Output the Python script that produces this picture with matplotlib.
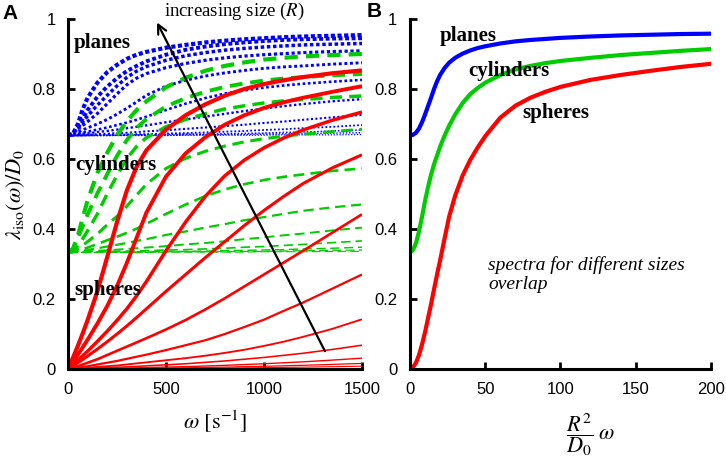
import matplotlib
matplotlib.use("Agg")
import matplotlib.pyplot as plt
from matplotlib.ticker import FixedLocator


# panel A: frequency grid [s^-1] shared by every curve
OMEGA = [0, 25, 50, 75, 100, 150, 200, 250, 300, 350, 400,
         500, 600, 700, 800, 900, 1000, 1100, 1200, 1350, 1500]

# planes (dotted blue), largest size first
PLANES_A = [
    [0.667, 0.671, 0.700, 0.742, 0.775, 0.818, 0.848, 0.869, 0.886, 0.898, 0.906, 0.918, 0.926, 0.933, 0.938, 0.942, 0.945, 0.948, 0.950, 0.952, 0.954],
    [0.667, 0.672, 0.690, 0.715, 0.740, 0.778, 0.807, 0.831, 0.851, 0.866, 0.879, 0.898, 0.912, 0.921, 0.928, 0.933, 0.937, 0.940, 0.942, 0.944, 0.945],
    [0.667, 0.674, 0.688, 0.706, 0.723, 0.754, 0.782, 0.809, 0.833, 0.851, 0.864, 0.882, 0.895, 0.904, 0.911, 0.916, 0.920, 0.923, 0.926, 0.928, 0.930],
    [0.667, 0.676, 0.686, 0.696, 0.707, 0.730, 0.758, 0.786, 0.812, 0.831, 0.844, 0.861, 0.873, 0.882, 0.889, 0.894, 0.898, 0.901, 0.904, 0.907, 0.909],
    [0.667, 0.672, 0.677, 0.683, 0.689, 0.700, 0.713, 0.728, 0.745, 0.763, 0.782, 0.808, 0.825, 0.837, 0.846, 0.853, 0.859, 0.863, 0.866, 0.871, 0.875],
    [0.667, 0.670, 0.672, 0.675, 0.678, 0.684, 0.690, 0.697, 0.704, 0.712, 0.721, 0.740, 0.758, 0.774, 0.787, 0.796, 0.804, 0.810, 0.815, 0.821, 0.826],
    [0.667, 0.668, 0.670, 0.672, 0.673, 0.677, 0.680, 0.684, 0.688, 0.692, 0.696, 0.705, 0.713, 0.721, 0.729, 0.737, 0.744, 0.751, 0.757, 0.765, 0.771],
    [0.667, 0.667, 0.668, 0.668, 0.669, 0.671, 0.672, 0.674, 0.675, 0.677, 0.679, 0.682, 0.686, 0.690, 0.694, 0.698, 0.703, 0.707, 0.712, 0.719, 0.726],
    [0.667, 0.667, 0.667, 0.667, 0.668, 0.668, 0.669, 0.669, 0.670, 0.671, 0.671, 0.673, 0.674, 0.676, 0.678, 0.680, 0.683, 0.685, 0.688, 0.692, 0.697],
    [0.667, 0.667, 0.667, 0.667, 0.667, 0.668, 0.668, 0.668, 0.669, 0.669, 0.669, 0.670, 0.671, 0.671, 0.672, 0.673, 0.674, 0.676, 0.677, 0.680, 0.683],
    [0.667, 0.667, 0.667, 0.667, 0.667, 0.667, 0.667, 0.668, 0.668, 0.668, 0.668, 0.668, 0.669, 0.669, 0.670, 0.670, 0.671, 0.672, 0.672, 0.674, 0.675],
    [0.667, 0.667, 0.667, 0.667, 0.667, 0.667, 0.667, 0.667, 0.667, 0.667, 0.667, 0.667, 0.668, 0.668, 0.668, 0.668, 0.668, 0.669, 0.669, 0.669, 0.670],
]

# cylinders (dashed green)
CYLINDERS_A = [
    [0.333, 0.343, 0.380, 0.432, 0.482, 0.560, 0.618, 0.668, 0.708, 0.740, 0.765, 0.805, 0.832, 0.852, 0.866, 0.876, 0.884, 0.889, 0.893, 0.897, 0.900],
    [0.333, 0.341, 0.374, 0.408, 0.442, 0.502, 0.557, 0.609, 0.654, 0.689, 0.714, 0.750, 0.774, 0.792, 0.806, 0.816, 0.824, 0.830, 0.834, 0.839, 0.843],
    [0.333, 0.339, 0.352, 0.372, 0.395, 0.443, 0.501, 0.553, 0.601, 0.636, 0.661, 0.692, 0.713, 0.729, 0.743, 0.752, 0.760, 0.766, 0.770, 0.776, 0.780],
    [0.333, 0.337, 0.344, 0.353, 0.364, 0.386, 0.412, 0.436, 0.465, 0.497, 0.528, 0.573, 0.602, 0.622, 0.637, 0.649, 0.658, 0.665, 0.671, 0.678, 0.685],
    [0.333, 0.335, 0.338, 0.342, 0.347, 0.357, 0.368, 0.378, 0.389, 0.401, 0.415, 0.443, 0.470, 0.494, 0.513, 0.528, 0.540, 0.549, 0.556, 0.566, 0.573],
    [0.333, 0.334, 0.336, 0.338, 0.340, 0.345, 0.350, 0.355, 0.360, 0.366, 0.371, 0.383, 0.393, 0.404, 0.414, 0.425, 0.434, 0.443, 0.452, 0.462, 0.470],
    [0.333, 0.334, 0.334, 0.335, 0.336, 0.338, 0.339, 0.341, 0.343, 0.345, 0.347, 0.351, 0.356, 0.360, 0.365, 0.371, 0.376, 0.382, 0.387, 0.396, 0.404],
    [0.333, 0.333, 0.334, 0.334, 0.334, 0.335, 0.335, 0.336, 0.337, 0.337, 0.338, 0.340, 0.341, 0.343, 0.345, 0.348, 0.350, 0.353, 0.356, 0.361, 0.366],
    [0.333, 0.333, 0.333, 0.333, 0.333, 0.334, 0.334, 0.334, 0.334, 0.335, 0.335, 0.336, 0.336, 0.337, 0.338, 0.339, 0.340, 0.341, 0.343, 0.345, 0.348],
    [0.333, 0.333, 0.333, 0.333, 0.333, 0.333, 0.333, 0.334, 0.334, 0.334, 0.334, 0.334, 0.335, 0.335, 0.335, 0.336, 0.336, 0.337, 0.338, 0.339, 0.340],
    [0.333, 0.333, 0.333, 0.333, 0.333, 0.333, 0.333, 0.333, 0.333, 0.333, 0.333, 0.334, 0.334, 0.334, 0.334, 0.334, 0.335, 0.335, 0.335, 0.336, 0.336],
]

# spheres (solid red)
SPHERES_A = [
    [0, 0.032, 0.066, 0.102, 0.140, 0.222, 0.320, 0.420, 0.510, 0.578, 0.625, 0.684, 0.725, 0.756, 0.781, 0.800, 0.814, 0.825, 0.834, 0.845, 0.853],
    [0, 0.020, 0.041, 0.062, 0.084, 0.130, 0.180, 0.237, 0.303, 0.375, 0.447, 0.550, 0.616, 0.662, 0.698, 0.725, 0.746, 0.762, 0.775, 0.792, 0.808],
    [0, 0.012, 0.025, 0.038, 0.051, 0.079, 0.108, 0.139, 0.172, 0.209, 0.250, 0.338, 0.420, 0.493, 0.552, 0.597, 0.632, 0.660, 0.683, 0.711, 0.734],
    [0, 0.009, 0.018, 0.027, 0.037, 0.057, 0.078, 0.100, 0.123, 0.147, 0.172, 0.222, 0.270, 0.318, 0.364, 0.410, 0.453, 0.493, 0.530, 0.575, 0.612],
    [0, 0.004, 0.008, 0.013, 0.018, 0.028, 0.040, 0.052, 0.064, 0.076, 0.088, 0.113, 0.140, 0.170, 0.202, 0.236, 0.270, 0.304, 0.338, 0.390, 0.442],
    [0, 0.002, 0.004, 0.006, 0.008, 0.013, 0.018, 0.023, 0.029, 0.035, 0.041, 0.054, 0.068, 0.082, 0.100, 0.120, 0.141, 0.166, 0.190, 0.230, 0.270],
    [0, 0.001, 0.002, 0.003, 0.004, 0.006, 0.008, 0.010, 0.013, 0.016, 0.019, 0.025, 0.031, 0.038, 0.046, 0.055, 0.066, 0.078, 0.092, 0.115, 0.142],
    [0, 0.0005, 0.001, 0.0015, 0.002, 0.003, 0.004, 0.005, 0.006, 0.0075, 0.009, 0.012, 0.015, 0.019, 0.023, 0.028, 0.033, 0.039, 0.045, 0.056, 0.068],
    [0, 0.0002, 0.0005, 0.0007, 0.0009, 0.0014, 0.0018, 0.0023, 0.0027, 0.0034, 0.0041, 0.0055, 0.0068, 0.0087, 0.0105, 0.0128, 0.015, 0.0178, 0.0205, 0.0255, 0.031],
    [0, 0.0001, 0.0002, 0.0004, 0.0005, 0.0007, 0.0009, 0.0012, 0.0014, 0.0018, 0.0021, 0.0028, 0.0035, 0.0045, 0.0054, 0.0066, 0.0077, 0.0092, 0.0106, 0.0132, 0.016],
    [0, 0, 0.0001, 0.0002, 0.0002, 0.0004, 0.0005, 0.0006, 0.0007, 0.0009, 0.0011, 0.0014, 0.0018, 0.0022, 0.0027, 0.0033, 0.0039, 0.0046, 0.0053, 0.0066, 0.008],
]

# panel B: rescaled frequency R^2/D0 * omega
X_B = [0, 2, 4, 6, 8, 10, 12, 14, 16, 18, 20, 23, 26, 30, 35, 40, 45, 50,
       60, 70, 80, 90, 100, 120, 140, 160, 180, 200]
PLANES_B = [0.667, 0.669, 0.675, 0.687, 0.705, 0.727, 0.751, 0.775, 0.800, 0.822,
            0.840, 0.860, 0.875, 0.889, 0.901, 0.910, 0.917, 0.922,
            0.930, 0.936, 0.940, 0.943, 0.946, 0.950, 0.953, 0.955, 0.957, 0.958]
CYLINDERS_B = [0.333, 0.340, 0.360, 0.393, 0.435, 0.480, 0.520, 0.555, 0.585, 0.610,
               0.635, 0.667, 0.695, 0.727, 0.760, 0.785, 0.803, 0.818,
               0.840, 0.856, 0.866, 0.874, 0.880, 0.889, 0.897, 0.903, 0.909, 0.914]
SPHERES_B = [0, 0.005, 0.018, 0.040, 0.070, 0.105, 0.145, 0.185, 0.228, 0.270,
             0.310, 0.373, 0.435, 0.495, 0.553, 0.597, 0.633, 0.665,
             0.718, 0.752, 0.775, 0.792, 0.806, 0.826, 0.840, 0.852, 0.863, 0.872]

Y_TICKS = [0, 0.2, 0.4, 0.6, 0.8, 1.0]
Y_TICK_LABELS = ["0", "0.2", "0.4", "0.6", "0.8", "1"]
X_TICKS_A = [0, 500, 1000, 1500]
X_TICKS_B = [0, 50, 100, 150, 200]

BLUE = (0.0, 0.0, 1.0)
GREEN = (0.0, 0.8, 0.0)
RED = (1.0, 0.0, 0.0)

PLANE_WIDTHS = [3.0, 2.8, 2.5, 2.3, 2.1, 1.9, 1.7, 1.5, 1.3, 1.1, 1.0, 0.9]
CYL_WIDTHS = [3.0, 2.8, 2.5, 2.2, 1.9, 1.6, 1.4, 1.2, 1.05, 0.9, 0.8]
SPHERE_WIDTHS = [3.0, 2.8, 2.5, 2.2, 1.9, 1.6, 1.35, 1.15, 1.0, 0.9, 0.8]

SERIF = ["Liberation Serif", "DejaVu Serif"]
SANS = ["Liberation Sans", "DejaVu Sans"]


def style_axes(ax, xticks, xlim):
    for side in ("top", "right"):
        ax.spines[side].set_visible(False)
    for side in ("left", "bottom"):
        ax.spines[side].set_linewidth(2.2)
    ax.set_xlim(*xlim)
    ax.set_ylim(0, 1)
    ax.xaxis.set_major_locator(FixedLocator(xticks))
    ax.set_yticks(Y_TICKS)
    ax.set_yticklabels(Y_TICK_LABELS)
    ax.tick_params(direction="in", length=5, width=2, pad=9, labelsize=12)
    for label in ax.get_xticklabels() + ax.get_yticklabels():
        label.set_family(SANS)


def draw_panel_a(ax):
    for values, lw in zip(PLANES_A, PLANE_WIDTHS):
        ax.plot(OMEGA, values, color=BLUE, lw=lw, dashes=(1, 0.6 + 0.35 * (3 - lw)),
                dash_capstyle="butt")
    for values, lw in zip(CYLINDERS_A, CYL_WIDTHS):
        on = (5 + 1.5 * lw) / lw
        off = (2 + 1.3 * lw) / lw
        ax.plot(OMEGA, values, color=GREEN, lw=lw, dashes=(on, off))
    for values, lw in zip(SPHERES_A, SPHERE_WIDTHS):
        ax.plot(OMEGA, values, color=RED, lw=lw, solid_capstyle="butt")

    style_axes(ax, X_TICKS_A, (0, 1500))

    ax.annotate("", xy=(454, 0.99), xytext=(1311, 0.051),
                arrowprops=dict(arrowstyle="->", lw=1.6, color="black",
                                mutation_scale=16, shrinkA=0, shrinkB=0),
                annotation_clip=False)
    ax.text(850, 1.021, "increasing size ($R$)", ha="center", va="center",
            fontsize=13.5, family=SERIF, clip_on=False)

    for label, x, y in [("planes", 30, 0.93), ("cylinders", 36, 0.583), ("spheres", 30, 0.226)]:
        ax.text(x, y, label, ha="left", va="center", fontsize=15,
                fontweight="bold", family=SERIF)

    ax.set_xlabel(r"$\omega\ [\mathrm{s}^{-1}]$", fontsize=16, labelpad=9)
    ax.set_ylabel(r"$\lambda_{\mathrm{iso}}(\omega)/D_0$", fontsize=16, labelpad=4)


def draw_panel_b(ax):
    ax.plot(X_B, PLANES_B, color=BLUE, lw=3.0)
    ax.plot(X_B, CYLINDERS_B, color=GREEN, lw=3.0)
    ax.plot(X_B, SPHERES_B, color=RED, lw=3.0)

    style_axes(ax, X_TICKS_B, (0, 200))

    for label, x, y in [("planes", 20, 0.95), ("cylinders", 39, 0.852), ("spheres", 75, 0.73)]:
        ax.text(x, y, label, ha="left", va="center", fontsize=15,
                fontweight="bold", family=SERIF)
    ax.text(52, 0.27, "spectra for different sizes\noverlap", ha="left", va="center",
            fontsize=14, style="italic", family=SERIF, linespacing=1.2)

    ax.text(0.60, -0.19, r"$\dfrac{R^2}{D_0}\;\omega$", transform=ax.transAxes,
            ha="center", va="center", fontsize=16)


def main() -> None:
    plt.rcParams["mathtext.fontset"] = "stix"
    plt.rcParams["font.family"] = SANS

    fig = plt.figure(figsize=(7.26, 4.63), dpi=100)
    ax_a = fig.add_axes([0.0937, 0.203, 0.4049, 0.756])
    ax_b = fig.add_axes([0.5647, 0.203, 0.4146, 0.756])

    draw_panel_a(ax_a)
    draw_panel_b(ax_b)

    fig.text(0.004, 0.971, "A", fontsize=15, fontweight="bold", va="center", ha="left")
    fig.text(0.505, 0.975, "B", fontsize=15, fontweight="bold", va="center", ha="left")

    fig.savefig("out.png", dpi=100)
    plt.close(fig)


if __name__ == "__main__":
    main()
